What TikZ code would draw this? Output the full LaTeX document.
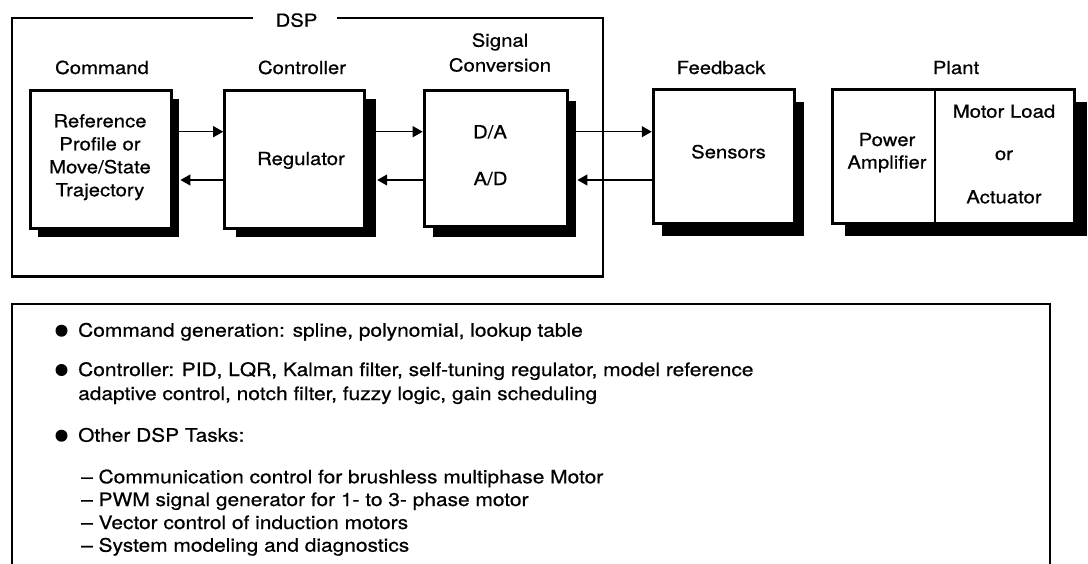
\documentclass[tikz,border=0pt]{standalone}
\usepackage{fontspec}
\setmainfont{TeX Gyre Heros}[FakeStretch=1.13,FakeBold=0.6]
\usetikzlibrary{arrows.meta,shadows,calc}
\begin{document}
\begin{tikzpicture}[x=1pt,y=-1pt,
  box/.style 2 args={draw,line width=3pt,fill=white,inner sep=0pt,
    general shadow={fill=black,shadow xshift=#1pt,shadow yshift=-#2pt}},
  lbl/.style={font=\fontsize{18}{23}\selectfont,inner sep=0pt,anchor=base},
  txt/.style={font=\fontsize{18.5}{23}\selectfont,inner sep=0pt,anchor=base west},
  arr/.style={line width=1.3pt,-{Triangle[length=10pt,width=11pt]}},
  frame/.style={line width=2.7pt},
  dot/.style={circle,fill=black,inner sep=0pt,minimum size=12pt},
  ]
\useasboundingbox (0,0) rectangle (1088,563);

% DSP frame
\coordinate (dspL) at (253,18);
\coordinate (dspR) at (337,18);
\draw[frame] (dspL) -- (12,18) -- (12,276.5) -- (603,276.5) -- (603,18) -- (dspR);
\node[lbl] (dsp) at (296.5,26.7) {DSP};

% boxes
\node[box={7}{8.7},minimum width=141pt,minimum height=138pt] (cmd) at (101.4,159) {};
\node[box={11}{8.7},minimum width=140pt,minimum height=138pt] (reg) at (294.7,159) {};
\node[box={8.7}{11},minimum width=143pt,minimum height=136pt] (sig) at (495.7,158) {};
\node[box={9}{12},minimum width=141.5pt,minimum height=134pt] (sen) at (724,156.5) {};
\node[box={12}{12},minimum width=242pt,minimum height=134pt] (plant) at (953.5,156.5) {};
\draw[line width=2.7pt] ([xshift=-18.5pt]plant.north) -- ([xshift=-18.5pt]plant.south);

% titles
\node[lbl] (tcmd) at (102,74) {Command};
\node[lbl] (tctl) at (302,74) {Controller};
\node[lbl] (tsig1) at (500,46.7) {Signal};
\node[lbl] (tsig2) at (500,71.5) {Conversion};
\node[lbl] (tfb) at (721,74) {Feedback};
\node[lbl] (tpl) at (956,74) {Plant};

% box texts
\node[lbl] (c1) at (100,127.3) {Reference};
\node[lbl] (c2) at (100,150.3) {Profile or};
\node[lbl] (c3) at (100,173.3) {Move/State};
\node[lbl] (c4) at (100,196.3) {Trajectory};
\node[lbl] (r1) at (301,165) {Regulator};
\node[lbl] (s1) at (490,138.3) {D/A};
\node[lbl] (s2) at (490.5,185) {A/D};
\node[lbl] (f1) at (728.5,158.3) {Sensors};
\node[lbl] (p1) at (887,146) {Power};
\node[lbl] (p2) at (887,168.5) {Amplifier};
\node[lbl] (m1) at (1004,117.7) {Motor Load};
\node[lbl] (m2) at (1004,160) {or};
\node[lbl] (m3) at (1004,203.3) {Actuator};

% arrows
\coordinate (up) at (0,131.7);
\coordinate (dn) at (0,180);
\draw[arr] (cmd.east |- up) -- (reg.west |- up);
\draw[arr] (reg.west |- dn) -- ($(cmd.east |- dn)+(7,0)$);
\draw[arr] (reg.east |- up) -- (sig.west |- up);
\draw[arr] (sig.west |- dn) -- ($(reg.east |- dn)+(11,0)$);
\draw[arr] (sig.east |- up) -- (sen.west |- up);
\draw[arr] (sen.west |- dn) -- ($(sig.east |- dn)+(8.7,0)$);

% lower box
\draw[frame] (12,566) -- (12,304) -- (1050,304) -- (1050,566);
\node[dot] (b1) at (61.5,330.7) {};
\node[txt] (l1) at (78,336.7) {Command generation: spline, polynomial, lookup table};
\node[dot] (b2) at (61.5,370) {};
\node[txt] (l2) at (78,376) {Controller: PID, LQR, Kalman filter, self-tuning regulator, model reference};
\node[txt] (l3) at (78,400) {adaptive control, notch filter, fuzzy logic, gain scheduling};
\node[dot] (b3) at (61.5,435.7) {};
\node[txt] (l4) at (78,441.7) {Other DSP Tasks:};
\node[txt] (l5) at (81,483.3) {– Communication control for brushless multiphase Motor};
\node[txt] (l6) at (81,506) {– PWM signal generator for 1- to 3- phase motor};
\node[txt] (l7) at (81,529) {– Vector control of induction motors};
\node[txt] (l8) at (81,551.7) {– System modeling and diagnostics};
\end{tikzpicture}
\end{document}
